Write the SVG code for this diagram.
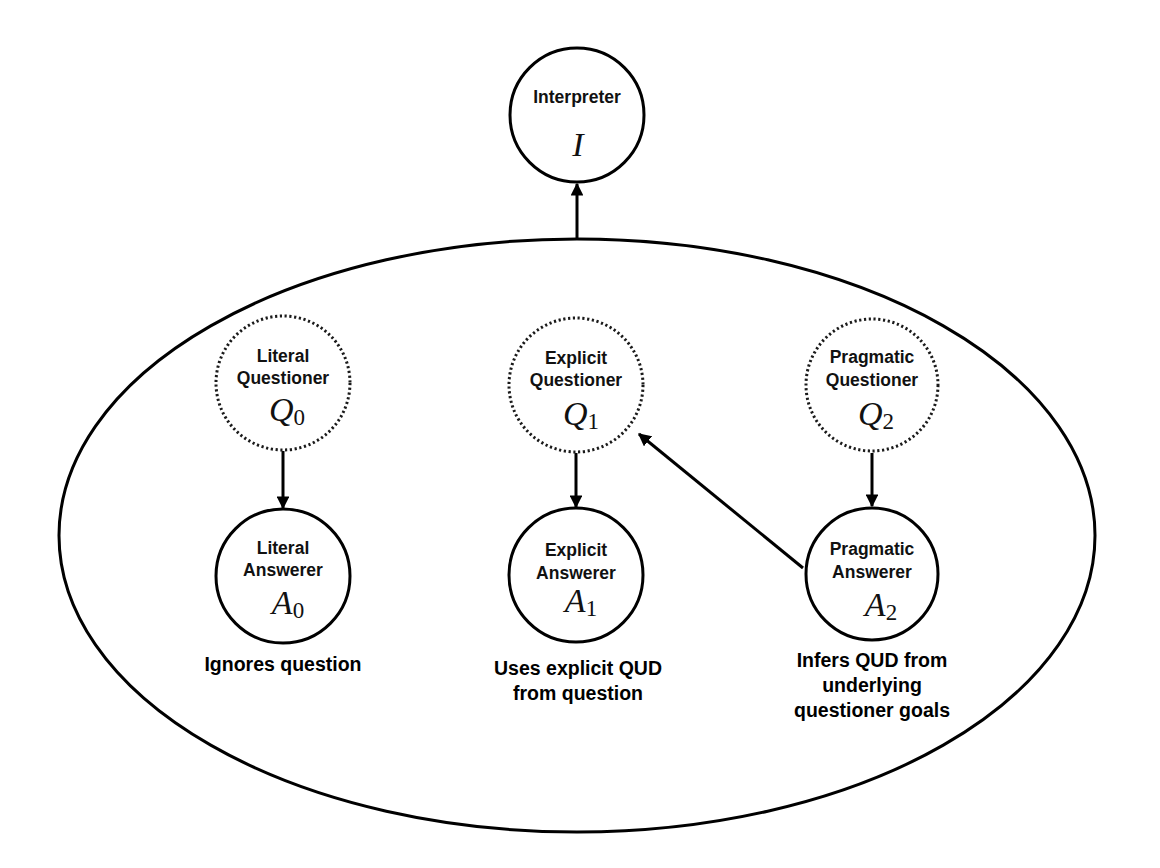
<svg xmlns="http://www.w3.org/2000/svg" width="1160" height="868" viewBox="0 0 1160 868">
<style>
.bg{fill:#fff}
.solid{fill:#fff;stroke:#000;stroke-width:3}
.dotted{fill:#fff;stroke:#1a1a1a;stroke-width:3;stroke-dasharray:2.2 2.6}
.outer{fill:none;stroke:#000;stroke-width:3}
.lbl{font-family:"Liberation Sans",Arial,Helvetica,sans-serif;font-weight:bold;font-size:17.5px;text-anchor:middle;fill:#111}
.note{font-family:"Liberation Sans",Arial,Helvetica,sans-serif;font-weight:bold;font-size:19.5px;text-anchor:middle;fill:#000}
.math{font-family:"Liberation Serif","Times New Roman",serif;font-size:34px;text-anchor:middle;fill:#111}
.it{font-style:italic}
.sub{font-size:23px;font-style:normal}
.edge{stroke:#000;stroke-width:3;fill:none}
</style>
<defs>
<marker id="arr" viewBox="0 0 10 10" refX="9" refY="5" markerWidth="4.3" markerHeight="4.3" orient="auto" markerUnits="strokeWidth">
<path d="M0,0 L10,5 L0,10 z" fill="#000"/>
</marker>
</defs>
<rect class="bg" x="0" y="0" width="1160" height="868"/>
<g id="context">
<ellipse class="outer" cx="577" cy="535.5" rx="518" ry="296.5"/>
</g>
<g id="connectors">
<line class="edge" x1="577" y1="239" x2="577" y2="184" marker-end="url(#arr)"/>
<line class="edge" x1="283" y1="451" x2="283" y2="508" marker-end="url(#arr)"/>
<line class="edge" x1="576" y1="453" x2="576" y2="507" marker-end="url(#arr)"/>
<line class="edge" x1="872" y1="453" x2="872" y2="506" marker-end="url(#arr)"/>
<line class="edge" x1="803" y1="568" x2="639" y2="434" marker-end="url(#arr)"/>
</g>
<g id="interpreter">
<circle class="solid" cx="577" cy="115" r="67"/>
<text class="lbl" x="577" y="103">Interpreter</text>
<text class="math" x="578" y="156"><tspan class="it">I</tspan></text>
</g>
<g id="literal-questioner">
<circle class="dotted" cx="283" cy="383" r="67"/>
<text class="lbl" x="283" y="362">Literal</text>
<text class="lbl" x="283" y="384">Questioner</text>
<text class="math" x="287" y="421"><tspan class="it">Q</tspan><tspan class="sub" dy="4">0</tspan></text>
</g>
<g id="literal-answerer">
<circle class="solid" cx="283" cy="576" r="67"/>
<text class="lbl" x="283" y="554">Literal</text>
<text class="lbl" x="283" y="576">Answerer</text>
<text class="math" x="288" y="614"><tspan class="it">A</tspan><tspan class="sub" dy="4">0</tspan></text>
</g>
<g id="explicit-questioner">
<circle class="dotted" cx="576" cy="385" r="67"/>
<text class="lbl" x="576" y="364">Explicit</text>
<text class="lbl" x="576" y="386">Questioner</text>
<text class="math" x="581" y="425"><tspan class="it">Q</tspan><tspan class="sub" dy="4">1</tspan></text>
</g>
<g id="explicit-answerer">
<circle class="solid" cx="576" cy="575" r="67"/>
<text class="lbl" x="576" y="556">Explicit</text>
<text class="lbl" x="576" y="579">Answerer</text>
<text class="math" x="581" y="612"><tspan class="it">A</tspan><tspan class="sub" dy="4">1</tspan></text>
</g>
<g id="pragmatic-questioner">
<circle class="dotted" cx="872" cy="385" r="66"/>
<text class="lbl" x="872" y="363">Pragmatic</text>
<text class="lbl" x="872" y="386">Questioner</text>
<text class="math" x="876" y="425"><tspan class="it">Q</tspan><tspan class="sub" dy="4">2</tspan></text>
</g>
<g id="pragmatic-answerer">
<circle class="solid" cx="872" cy="574" r="66"/>
<text class="lbl" x="872" y="555">Pragmatic</text>
<text class="lbl" x="872" y="578">Answerer</text>
<text class="math" x="881" y="616"><tspan class="it">A</tspan><tspan class="sub" dy="4">2</tspan></text>
</g>
<g id="notes">
<text class="note" x="283" y="671">Ignores question</text>
<text class="note" x="578" y="675">Uses explicit QUD</text>
<text class="note" x="578" y="700">from question</text>
<text class="note" x="872" y="667">Infers QUD from</text>
<text class="note" x="872" y="692">underlying</text>
<text class="note" x="872" y="717">questioner goals</text>
</g>
</svg>
